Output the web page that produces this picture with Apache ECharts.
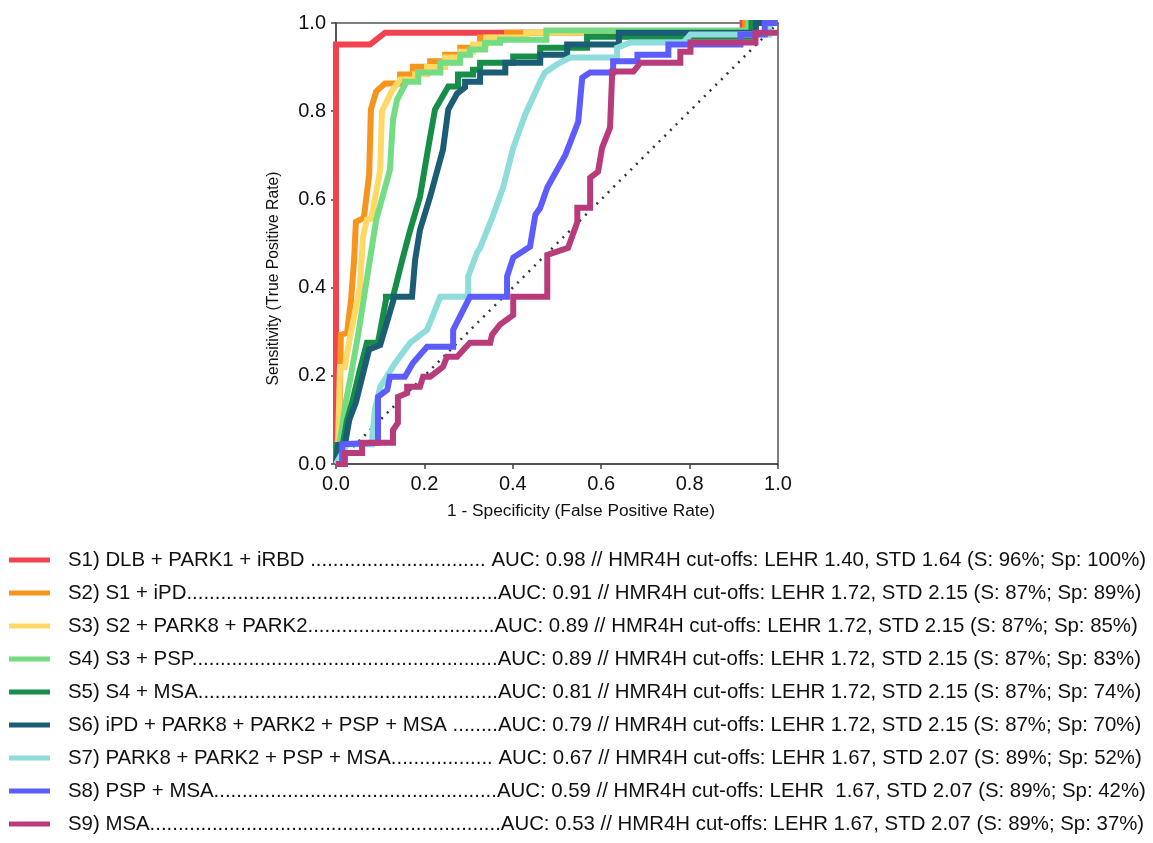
<!DOCTYPE html>
<html>
<head>
<meta charset="utf-8">
<title>ROC curves</title>
<script src="https://cdn.jsdelivr.net/npm/echarts@6/dist/echarts.min.js"></script>
<style>
  html, body { margin: 0; padding: 0; background: #fff; }
  #chart { width: 1153px; height: 843px; }
</style>
</head>
<body>
<div id="chart"></div>
<script>
// ROC points [1 - specificity, sensitivity]
var rocS1 = [[0,0],[0,0.951],[0.077,0.951],[0.111,0.978],[0.92,0.978],[0.92,1],[1,1]];
var rocS2 = [[0,0],[0.007,0.054],[0.011,0.293],[0.025,0.297],[0.034,0.372],[0.041,0.463],[0.045,0.549],[0.063,0.558],[0.075,0.656],[0.079,0.804],[0.091,0.845],[0.111,0.863],[0.145,0.863],[0.145,0.883],[0.174,0.883],[0.174,0.901],[0.213,0.901],[0.213,0.913],[0.247,0.913],[0.247,0.928],[0.281,0.928],[0.281,0.944],[0.326,0.944],[0.326,0.967],[0.387,0.967],[0.387,0.978],[0.926,0.978],[0.926,1],[1,1]];
var rocS3 = [[0,0],[0.005,0.061],[0.009,0.22],[0.02,0.22],[0.032,0.29],[0.054,0.4],[0.061,0.515],[0.07,0.554],[0.08,0.556],[0.1,0.667],[0.104,0.8],[0.126,0.845],[0.145,0.872],[0.179,0.872],[0.179,0.884],[0.206,0.884],[0.206,0.9],[0.247,0.9],[0.247,0.922],[0.281,0.922],[0.281,0.935],[0.31,0.935],[0.31,0.951],[0.34,0.951],[0.34,0.967],[0.43,0.967],[0.43,0.978],[0.95,0.978],[0.95,1],[1,1]];
var rocS4 = [[0,0],[0.009,0.054],[0.023,0.145],[0.032,0.191],[0.05,0.293],[0.066,0.395],[0.091,0.554],[0.122,0.667],[0.129,0.781],[0.138,0.826],[0.156,0.86],[0.156,0.867],[0.186,0.867],[0.186,0.888],[0.236,0.888],[0.236,0.91],[0.281,0.91],[0.281,0.928],[0.303,0.928],[0.303,0.94],[0.337,0.94],[0.337,0.955],[0.371,0.955],[0.371,0.962],[0.476,0.962],[0.476,0.983],[0.933,0.983],[0.933,1],[1,1]];
var rocS5 = [[0,0],[0.002,0.043],[0.015,0.043],[0.025,0.1],[0.036,0.138],[0.054,0.213],[0.07,0.275],[0.095,0.275],[0.113,0.372],[0.113,0.379],[0.129,0.379],[0.15,0.463],[0.168,0.531],[0.19,0.606],[0.208,0.713],[0.224,0.804],[0.254,0.856],[0.276,0.856],[0.276,0.883],[0.31,0.883],[0.31,0.894],[0.326,0.894],[0.326,0.91],[0.401,0.91],[0.401,0.924],[0.462,0.924],[0.462,0.944],[0.568,0.944],[0.568,0.969],[0.94,0.969],[0.94,1],[1,1]];
var rocS6 = [[0,0],[0.005,0.043],[0.02,0.043],[0.03,0.1],[0.045,0.14],[0.06,0.2],[0.075,0.26],[0.1,0.27],[0.13,0.372],[0.13,0.379],[0.172,0.379],[0.179,0.463],[0.19,0.531],[0.213,0.606],[0.242,0.713],[0.254,0.804],[0.274,0.84],[0.292,0.854],[0.292,0.867],[0.326,0.867],[0.326,0.888],[0.383,0.888],[0.383,0.91],[0.462,0.91],[0.462,0.928],[0.523,0.928],[0.523,0.951],[0.64,0.951],[0.64,0.978],[0.95,0.978],[0.95,1],[1,1]];
var rocS7 = [[0,0],[0.025,0.045],[0.082,0.045],[0.082,0.061],[0.088,0.123],[0.1,0.175],[0.134,0.229],[0.168,0.275],[0.206,0.304],[0.236,0.379],[0.299,0.379],[0.299,0.425],[0.319,0.479],[0.326,0.49],[0.356,0.565],[0.378,0.627],[0.401,0.717],[0.428,0.792],[0.462,0.867],[0.473,0.888],[0.5,0.906],[0.53,0.922],[0.636,0.922],[0.636,0.944],[0.666,0.956],[0.786,0.956],[0.802,0.974],[0.98,0.974],[0.98,1],[1,1]];
var rocS8 = [[0,0],[0.014,0],[0.014,0.045],[0.095,0.048],[0.095,0.152],[0.116,0.168],[0.122,0.198],[0.156,0.198],[0.174,0.229],[0.206,0.266],[0.265,0.266],[0.265,0.304],[0.303,0.379],[0.387,0.379],[0.387,0.425],[0.401,0.468],[0.439,0.493],[0.451,0.565],[0.462,0.581],[0.478,0.627],[0.519,0.701],[0.548,0.776],[0.557,0.876],[0.575,0.888],[0.627,0.888],[0.627,0.913],[0.682,0.913],[0.682,0.928],[0.752,0.928],[0.752,0.951],[0.915,0.951],[0.915,0.974],[0.97,0.974],[0.97,1],[1,1]];
var rocS9 = [[0,0],[0.02,0],[0.02,0.025],[0.059,0.025],[0.059,0.048],[0.129,0.048],[0.129,0.077],[0.14,0.093],[0.14,0.152],[0.161,0.161],[0.161,0.175],[0.19,0.175],[0.197,0.198],[0.213,0.198],[0.242,0.22],[0.251,0.243],[0.274,0.243],[0.303,0.275],[0.349,0.275],[0.353,0.293],[0.371,0.316],[0.401,0.338],[0.401,0.379],[0.478,0.379],[0.478,0.474],[0.525,0.49],[0.546,0.549],[0.546,0.581],[0.575,0.581],[0.575,0.649],[0.593,0.663],[0.602,0.717],[0.62,0.763],[0.625,0.89],[0.673,0.89],[0.689,0.91],[0.779,0.91],[0.779,0.935],[0.802,0.935],[0.802,0.956],[0.949,0.956],[0.949,0.978],[1,0.978]];
var chanceLine = [[0,0],[1,1]];

var xTicks = [0, 0.2, 0.4, 0.6, 0.8, 1.0];
var yTicks = [0, 0.2, 0.4, 0.6, 0.8, 1.0];

var legendLabels = [
    'S1) DLB + PARK1 + iRBD ' + '.'.repeat(31) + ' AUC: 0.98 // HMR4H cut-offs: LEHR 1.40, STD 1.64 (S: 96%; Sp: 100%)',
    'S2) S1 + iPD' + '.'.repeat(55) + 'AUC: 0.91 // HMR4H cut-offs: LEHR 1.72, STD 2.15 (S: 87%; Sp: 89%)',
    'S3) S2 + PARK8 + PARK2' + '.'.repeat(33) + 'AUC: 0.89 // HMR4H cut-offs: LEHR 1.72, STD 2.15 (S: 87%; Sp: 85%)',
    'S4) S3 + PSP' + '.'.repeat(54) + 'AUC: 0.89 // HMR4H cut-offs: LEHR 1.72, STD 2.15 (S: 87%; Sp: 83%)',
    'S5) S4 + MSA' + '.'.repeat(53) + 'AUC: 0.81 // HMR4H cut-offs: LEHR 1.72, STD 2.15 (S: 87%; Sp: 74%)',
    'S6) iPD + PARK8 + PARK2 + PSP + MSA ' + '.'.repeat(8) + 'AUC: 0.79 // HMR4H cut-offs: LEHR 1.72, STD 2.15 (S: 87%; Sp: 70%)',
    'S7) PARK8 + PARK2 + PSP + MSA' + '.'.repeat(18) + ' AUC: 0.67 // HMR4H cut-offs: LEHR 1.67, STD 2.07 (S: 89%; Sp: 52%)',
    'S8) PSP + MSA' + '.'.repeat(50) + 'AUC: 0.59 // HMR4H cut-offs: LEHR  1.67, STD 2.07 (S: 89%; Sp: 42%)',
    'S9) MSA' + '.'.repeat(62) + 'AUC: 0.53 // HMR4H cut-offs: LEHR 1.67, STD 2.07 (S: 89%; Sp: 37%)'
];
var curves = [rocS1, rocS2, rocS3, rocS4, rocS5, rocS6, rocS7, rocS8, rocS9];
var colors = ['#F0434F', '#F7941D', '#FFD966', '#74DC82', '#168E48', '#1B5D74', '#8EDCDC', '#5C5CFF', '#B83C7B'];

var myChart = echarts.init(document.getElementById('chart'));

var series = [{
    name: 'chance',
    type: 'line',
    data: chanceLine,
    showSymbol: false,
    silent: true,
    lineStyle: { color: '#333', width: 2.5, type: [2, 6] },
    z: 1
}];
curves.forEach(function (pts, i) {
    series.push({
        name: legendLabels[i],
        type: 'line',
        data: pts,
        showSymbol: false,
        clip: false,
        color: colors[i],
        lineStyle: { color: colors[i], width: 6, join: 'miter', cap: 'butt' },
        z: 2 + i
    });
});

var textFont = '"Liberation Sans", Arial, sans-serif';

myChart.setOption({
    animation: false,
    backgroundColor: '#fff',
    textStyle: { fontFamily: textFont },
    grid: {
        left: 336, top: 23, width: 442, height: 441,
        show: true, borderColor: '#555', borderWidth: 1.5
    },
    xAxis: {
        type: 'value', min: 0, max: 1, interval: 0.2,
        name: '1 - Specificity (False Positive Rate)',
        nameLocation: 'middle', nameGap: 39,
        nameTextStyle: { fontSize: 17.3, color: '#111', fontFamily: textFont, padding: [0, 0, 0, 48] },
        axisLine: { show: true, lineStyle: { color: '#444', width: 1.5 } },
        axisTick: { show: true, inside: false, length: 5, lineStyle: { color: '#444', width: 1.5 } },
        axisLabel: {
            fontSize: 20, color: '#111', margin: 10, fontFamily: textFont,
            formatter: function (v) { return xTicks.indexOf(v) >= 0 ? v.toFixed(1) : ''; }
        },
        splitLine: { show: false }
    },
    yAxis: {
        type: 'value', min: 0, max: 1, interval: 0.2,
        name: 'Sensitivity (True Positive Rate)',
        nameLocation: 'middle', nameGap: 54, nameRotate: 90,
        nameTextStyle: { fontSize: 15.7, color: '#111', fontFamily: textFont, padding: [0, 70, 0, 0] },
        axisLine: { show: true, lineStyle: { color: '#444', width: 1.5 } },
        axisTick: { show: true, inside: false, length: 5, lineStyle: { color: '#444', width: 1.5 } },
        axisLabel: {
            fontSize: 20, color: '#111', margin: 10, fontFamily: textFont,
            formatter: function (v) { return yTicks.indexOf(v) >= 0 ? v.toFixed(1) : ''; }
        },
        splitLine: { show: false }
    },
    legend: {
        data: legendLabels,
        orient: 'vertical',
        left: 9, top: 550,
        padding: 0,
        icon: 'rect',
        itemWidth: 41, itemHeight: 5,
        itemGap: 13,
        selectedMode: false,
        textStyle: {
            fontSize: 20.4, color: '#111', fontFamily: textFont,
            lineHeight: 20, padding: [0, 0, 0, 13]
        }
    },
    series: series
});
</script>
</body>
</html>
